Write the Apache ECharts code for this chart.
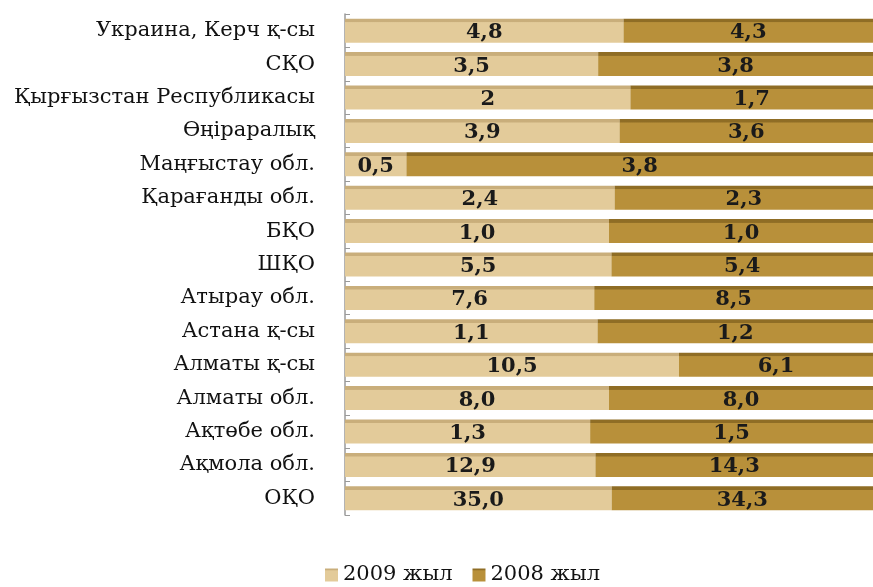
<!DOCTYPE html>
<html><head><meta charset="utf-8">
<script src="https://cdn.jsdelivr.net/npm/echarts@6/dist/echarts.min.js"></script>
<style>html,body{margin:0;padding:0;background:#fff}#c{width:873px;height:587px}</style>
</head><body><div id="c"></div>
<script>
const categories = ['Украина, Керч қ-сы','СҚО','Қырғызстан Республикасы','Өңіраралық','Маңғыстау обл.','Қарағанды обл.','БҚО','ШҚО','Атырау обл.','Астана қ-сы','Алматы қ-сы','Алматы обл.','Ақтөбе обл.','Ақмола обл.','ОҚО'];
const values2009 = [4.8,3.5,2,3.9,0.5,2.4,1.0,5.5,7.6,1.1,10.5,8.0,1.3,12.9,35.0];
const values2008 = [4.3,3.8,1.7,3.6,3.8,2.3,1.0,5.4,8.5,1.2,6.1,8.0,1.5,14.3,34.3];
const labels2009 = ['4,8','3,5','2','3,9','0,5','2,4','1,0','5,5','7,6','1,1','10,5','8,0','1,3','12,9','35,0'];
const labels2008 = ['4,3','3,8','1,7','3,6','3,8','2,3','1,0','5,4','8,5','1,2','6,1','8,0','1,5','14,3','34,3'];
const seriesNames = ['2009 жыл','2008 жыл'];

const share = (a, i) => a[i] / (values2009[i] + values2008[i]) * 100;
const grad = (top, main) => new echarts.graphic.LinearGradient(0,0,0,1,[
  {offset:0,color:top},{offset:0.14,color:top},{offset:0.16,color:main},{offset:1,color:main}]);
const font = '"DejaVu Serif","Liberation Serif",serif';

const chart = echarts.init(document.getElementById('c'));
chart.setOption({
  animation:false,
  grid:{left:345,top:14,width:530,bottom:72},
  xAxis:{type:'value',min:0,max:100,show:false},
  yAxis:{type:'category',data:categories,inverse:true,
    axisLine:{show:true,lineStyle:{color:'#9a9a9a',width:1.5}},
    axisTick:{show:true,inside:true,length:5,lineStyle:{color:'#9a9a9a'}},
    axisLabel:{margin:30,color:'#111',fontFamily:font,fontSize:21}},
  legend:{top:562,left:325,padding:0,itemWidth:13,itemHeight:13,itemGap:20,icon:'rect',
    textStyle:{fontFamily:font,fontSize:21,color:'#111',lineHeight:26},data:seriesNames},
  series:[
    {name:seriesNames[0],type:'bar',stack:'s',barWidth:24,
      data:values2009.map((v,i)=>share(values2009,i)),
      itemStyle:{color:grad('#c9ae7b','#e3cb9a')},
      label:{show:true,position:'inside',formatter:p=>labels2009[p.dataIndex],
        fontFamily:font,fontWeight:'bold',fontSize:21,color:'#1a1a1a',offset:[0,2]}},
    {name:seriesNames[1],type:'bar',stack:'s',barWidth:24,
      data:values2008.map((v,i)=>share(values2008,i)),
      itemStyle:{color:grad('#8f6d25','#b8903a')},
      label:{show:true,position:'inside',formatter:p=>labels2008[p.dataIndex],
        fontFamily:font,fontWeight:'bold',fontSize:21,color:'#1a1a1a',offset:[0,2]}}
  ]
});
</script></body></html>
